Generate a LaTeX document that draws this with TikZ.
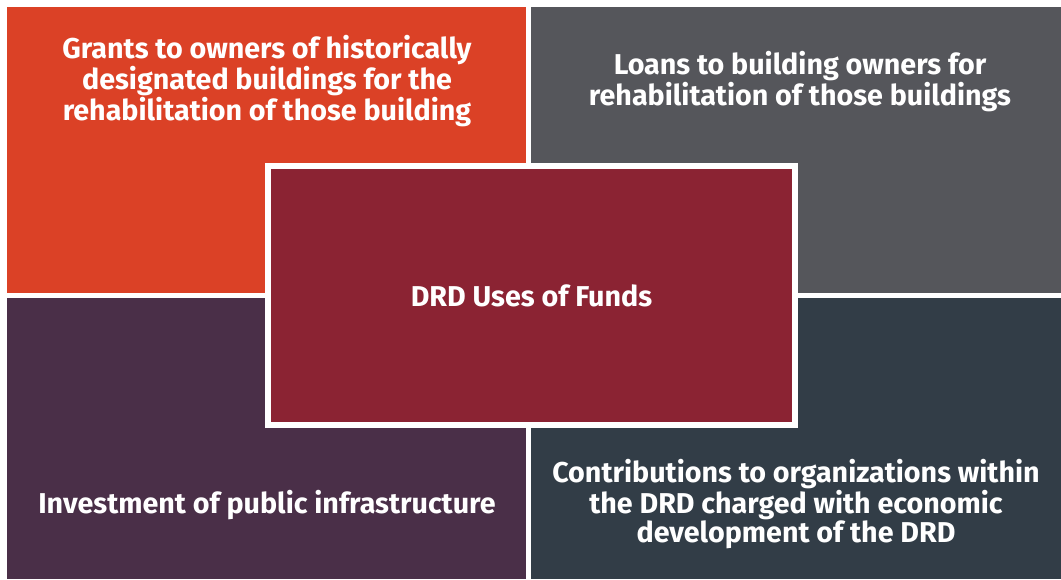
\documentclass[tikz,border=0pt]{standalone}
\usepackage{fontspec}
\setmainfont{Fira Sans}
\usepackage{tikz}

\definecolor{grantorange}{HTML}{DB4126}
\definecolor{loangray}{HTML}{55565B}
\definecolor{fundred}{HTML}{8B2333}
\definecolor{investpurple}{HTML}{4A2F48}
\definecolor{contribslate}{HTML}{323D47}

\tikzset{
    usetext/.style={text=white, align=center, font=\bfseries\fontsize{20.4}{20.8}\selectfont, inner sep=0pt}
}

\begin{document}
\begin{tikzpicture}[x=0.25mm, y=-0.25mm]
        \useasboundingbox[fill=white] (0,0) rectangle (1061,579);

        % the four quarters
        \fill[grantorange] (7,7) rectangle (526,293);
        \fill[loangray] (531,7) rectangle (1061,293);
        \fill[investpurple] (7,298) rectangle (526,579);
        \fill[contribslate] (531,298) rectangle (1061,579);

        % the texts in the quarters
        \node[usetext] (grants) at (267,81) {Grants to owners of historically\\designated buildings for the\\rehabilitation of those building};
        \node[usetext] (loans) at (800,82) {Loans to building owners for\\rehabilitation of those buildings};
        \node[usetext] (invest) at (267,505) {Investment of public infrastructure};
        \node[usetext] (contrib) at (796,504) {Contributions to organizations within\\the DRD charged with economic\\development of the DRD};

        % the box in the middle
        \node[usetext, fill=fundred, draw=white, line width=5.5*0.25mm,
              minimum width=527*0.25mm, minimum height=259*0.25mm] (uses) at (531.5,295.5) {DRD Uses of Funds};

    \end{tikzpicture}
\end{document}
